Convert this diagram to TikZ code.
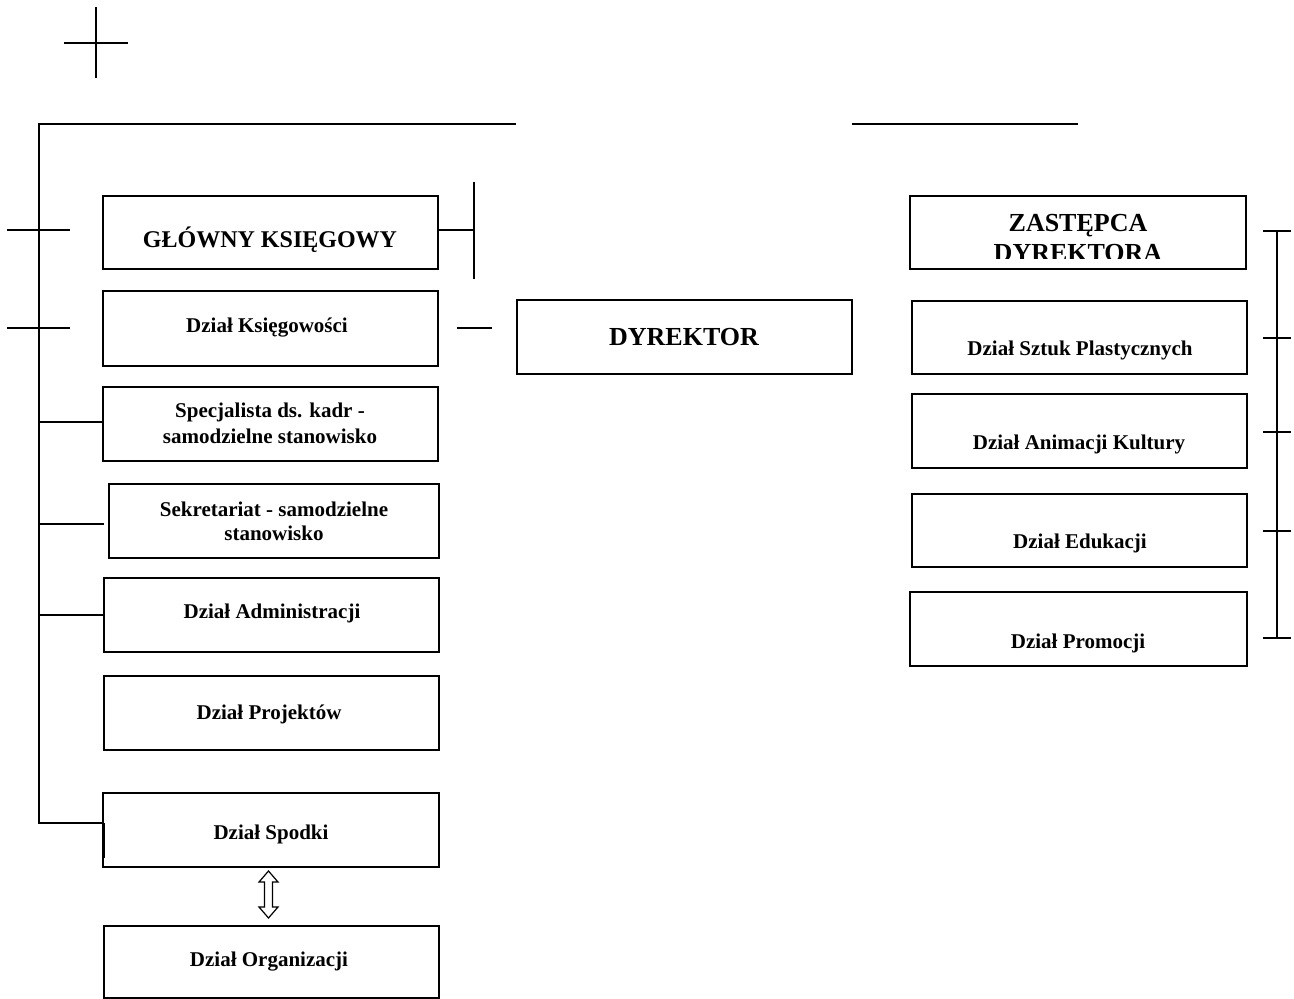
\documentclass[tikz,border=0pt]{standalone}
\usepackage{fontspec}
\setmainfont{Liberation Serif}
\begin{document}
\begin{tikzpicture}[x=1pt,y=-1pt,
  box/.style={draw, line width=1.8pt, inner sep=0pt, outer sep=0pt, anchor=north west},
  conn/.style={line width=1.4pt},
  lbl/.style={anchor=base, inner sep=0pt, font=\bfseries\fontsize{21}{25}\selectfont},
  big/.style={anchor=base, inner sep=0pt, font=\bfseries\fontsize{26}{30}\selectfont}]
\useasboundingbox (0,0) rectangle (1294,999);

% boxes
\node[box, minimum width=335pt, minimum height=73pt] (gk) at (103,196) {};
\node[box, minimum width=335pt, minimum height=75pt] (ksieg) at (103,291) {};
\node[box, minimum width=335pt, minimum height=74pt] (dyr) at (517,300) {};
\node[box, minimum width=336pt, minimum height=73pt] (zast) at (910,196) {};
\node[box, minimum width=335pt, minimum height=73pt] (sztuk) at (912,301) {};
\node[box, minimum width=335pt, minimum height=74pt] (anim) at (912,394) {};
\node[box, minimum width=335pt, minimum height=73pt] (eduk) at (912,494) {};
\node[box, minimum width=337pt, minimum height=74pt] (prom) at (910,592) {};
\node[box, minimum width=335pt, minimum height=74pt] (spec) at (103,387) {};
\node[box, minimum width=330pt, minimum height=74pt] (sekr) at (109,484) {};
\node[box, minimum width=335pt, minimum height=74pt] (adm) at (104,578) {};
\node[box, minimum width=335pt, minimum height=74pt] (proj) at (104,676) {};
\node[box, minimum width=336pt, minimum height=74pt] (spodki) at (103,793) {};
\node[box, minimum width=335pt, minimum height=72pt] (org) at (104,926) {};

% texts
\node[big, font=\bfseries\fontsize{24}{28}\selectfont] (gkt) at (270,247) {GŁÓWNY KSIĘGOWY};
\node[lbl] (ksiegt) at (267,332) {Dział Księgowości};
\node[big] (dyrt) at (684,345) {DYREKTOR};
\begin{scope}
  \clip (910,196) rectangle (1246,258.5);
  \node[big] (zastt1) at (1078,231) {ZASTĘPCA};
  \node[big] (zastt2) at (1078,261) {DYREKTORA};
\end{scope}
\node[lbl] (sztukt) at (1080,355) {Dział Sztuk Plastycznych};
\node[lbl] (animt) at (1079,449) {Dział Animacji Kultury};
\node[lbl] (edukt) at (1080,548) {Dział Edukacji};
\node[lbl] (promt) at (1078,648) {Dział Promocji};
\node[lbl] (spect1) at (270,417) {Specjalista ds. kadr -};
\node[lbl] (spect2) at (270,443) {samodzielne stanowisko};
\node[lbl] (sekrt1) at (274,516) {Sekretariat - samodzielne};
\node[lbl] (sekrt2) at (274,540) {stanowisko};
\node[lbl] (admt) at (272,618) {Dział Administracji};
\node[lbl] (projt) at (269,719) {Dział Projektów};
\node[lbl] (spodkit) at (271,839) {Dział Spodki};
\node[lbl] (orgt) at (269,966) {Dział Organizacji};

% free coordinates
\coordinate (crossT) at (96,7);
\coordinate (crossB) at (96,78);
\coordinate (crossL) at (64,43);
\coordinate (crossR) at (128,43);
\coordinate (topL) at (39,124);
\coordinate (topM) at (516,124);
\coordinate (botL) at (39,823);
\coordinate (spodkiIn) at (104,823);
\coordinate (spodkiEnd) at (104,858);
\coordinate (t1a) at (7,230);
\coordinate (t1b) at (70,230);
\coordinate (t2a) at (7,328);
\coordinate (t2b) at (70,328);
\coordinate (gkR) at (474,230);
\coordinate (gkRt) at (474,182);
\coordinate (gkRb) at (474,279);
\coordinate (kdA) at (457,328);
\coordinate (kdB) at (492,328);
\coordinate (trA) at (852,124);
\coordinate (trB) at (1078,124);
\coordinate (rbT) at (1277,231);
\coordinate (rbB) at (1277,638);

% connectors
\draw[conn] (crossT) -- (crossB);
\draw[conn] (crossL) -- (crossR);
\draw[conn] (topM) -- (topL) -- (botL) -- (spodkiIn);
\draw[line width=2pt] (spodkiIn) -- (spodkiEnd);
\draw[conn] (t1a) -- (t1b);
\draw[conn] (t2a) -- (t2b);
\draw[conn] (39,422) -- (spec.west |- 39,422);
\draw[conn] (39,524) -- (104,524);
\draw[conn] (39,615) -- (adm.west |- 39,615);
\draw[conn] (gk.east |- gkR) -- (gkR);
\draw[conn] (gkRt) -- (gkRb);
\draw[conn] (kdA) -- (kdB);
\draw[conn] (trA) -- (trB);
\draw[conn] (rbT) -- (rbB);
\foreach \yy in {231,338,432,531,638}
  \draw[conn] (1263,\yy) -- (1291,\yy);

% double arrow between Dzial Spodki and Dzial Organizacji
\draw[line width=1.2pt, line join=miter]
  (268.5,871) -- (278,882) -- (272.5,882) -- (272.5,907) -- (278,907)
  -- (268.5,918) -- (259,907) -- (264.5,907) -- (264.5,882) -- (259,882) -- cycle;
\end{tikzpicture}
\end{document}
